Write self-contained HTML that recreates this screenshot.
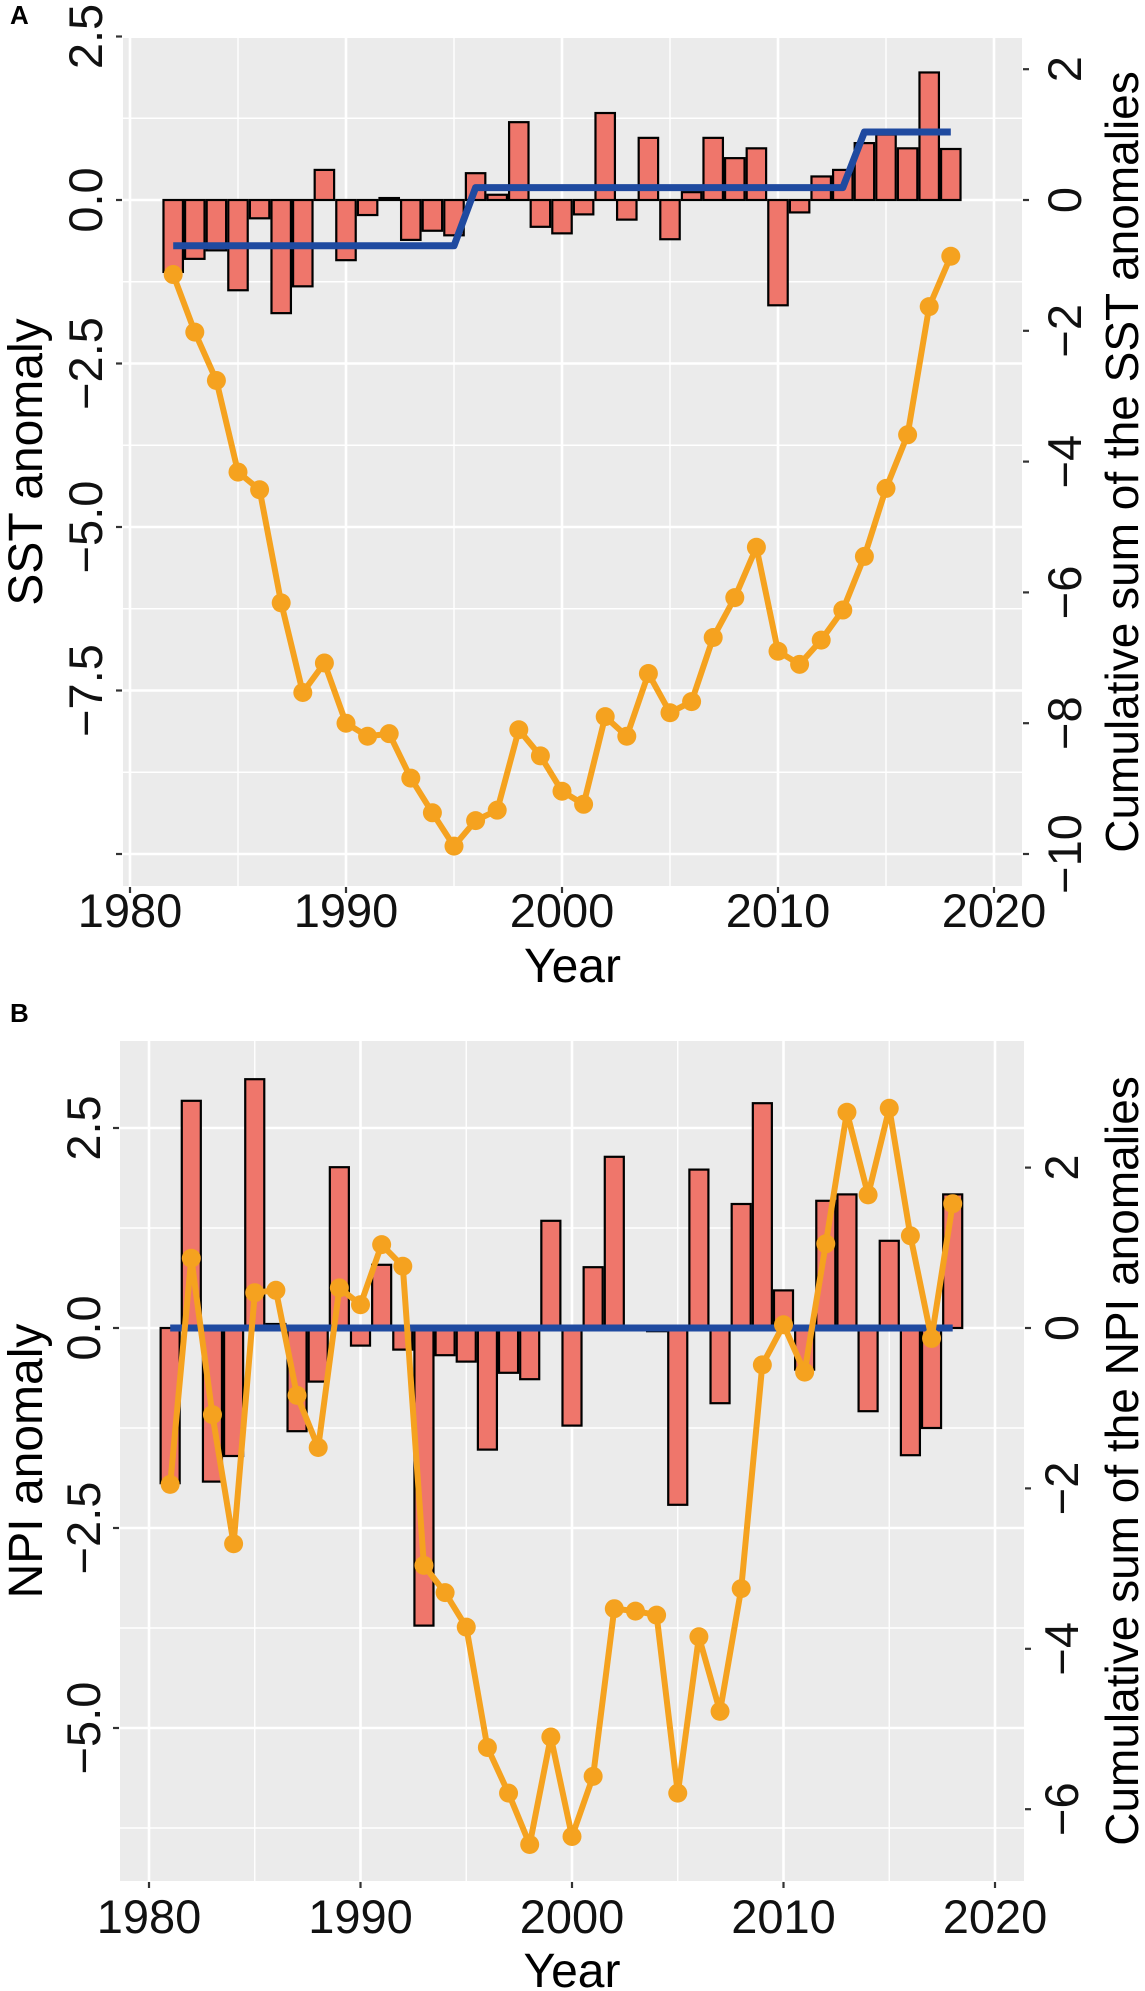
<!DOCTYPE html>
<html><head><meta charset="utf-8"><style>
html,body{margin:0;padding:0;background:#fff;}
svg{display:block;font-family:"Liberation Sans",Arial,sans-serif;}
</style></head><body>
<svg id="chart" width="1145" height="1991" viewBox="0 0 1145 1991" xmlns="http://www.w3.org/2000/svg"></svg>
<script>
// ---- Panel A data (SST) ----
const yearsA = [1982,1983,1984,1985,1986,1987,1988,1989,1990,1991,1992,1993,1994,1995,1996,1997,1998,1999,2000,2001,2002,2003,2004,2005,2006,2007,2008,2009,2010,2011,2012,2013,2014,2015,2016,2017,2018];
const sstAnom = [-1.10,-0.90,-0.77,-1.38,-0.28,-1.73,-1.32,0.46,-0.92,-0.23,0.03,-0.61,-0.47,-0.54,0.41,0.08,1.19,-0.41,-0.51,-0.22,1.33,-0.30,0.95,-0.60,0.12,0.95,0.64,0.79,-1.61,-0.19,0.36,0.46,0.87,1.00,0.79,1.95,0.78];
const sstCusum = [-1.14,-2.02,-2.76,-4.16,-4.43,-6.16,-7.53,-7.08,-8.00,-8.20,-8.16,-8.84,-9.37,-9.88,-9.49,-9.33,-8.10,-8.50,-9.04,-9.24,-7.90,-8.20,-7.24,-7.84,-7.67,-6.69,-6.08,-5.31,-6.90,-7.10,-6.73,-6.27,-5.45,-4.41,-3.59,-1.63,-0.86];
const sstRegime = [-0.70,-0.70,-0.70,-0.70,-0.70,-0.70,-0.70,-0.70,-0.70,-0.70,-0.70,-0.70,-0.70,-0.70,0.19,0.19,0.19,0.19,0.19,0.19,0.19,0.19,0.19,0.19,0.19,0.19,0.19,0.19,0.19,0.19,0.19,0.19,1.04,1.04,1.04,1.04,1.04];
const leftTicksA = [2.5,0,-2.5,-5,-7.5,-10];
const leftTickLabelsA = ["2.5","0.0","\u22122.5","\u22125.0","\u22127.5",""];
const rightTicksA = [2,0,-2,-4,-6,-8,-10];
const rightTickLabelsA = ["2","0","\u22122","\u22124","\u22126","\u22128","\u221210"];

// ---- Panel B data (NPI) ----
const yearsB = [1981,1982,1983,1984,1985,1986,1987,1988,1989,1990,1991,1992,1993,1994,1995,1996,1997,1998,1999,2000,2001,2002,2003,2004,2005,2006,2007,2008,2009,2010,2011,2012,2013,2014,2015,2016,2017,2018];
const npiAnom = [-1.94,2.84,-1.92,-1.60,3.11,0.05,-1.29,-0.67,2.01,-0.22,0.79,-0.27,-3.72,-0.34,-0.42,-1.52,-0.56,-0.64,1.34,-1.22,0.76,2.14,0.02,-0.04,-2.21,1.98,-0.94,1.55,2.81,0.47,-0.52,1.59,1.67,-1.04,1.09,-1.59,-1.25,1.67];
const npiCusum = [-1.95,0.87,-1.08,-2.69,0.44,0.47,-0.84,-1.49,0.50,0.29,1.04,0.77,-2.96,-3.30,-3.73,-5.23,-5.80,-6.44,-5.10,-6.34,-5.59,-3.50,-3.53,-3.58,-5.80,-3.85,-4.78,-3.25,-0.46,0.04,-0.55,1.05,2.69,1.66,2.74,1.15,-0.13,1.55];
const npiRegime = [0,0,0,0,0,0,0,0,0,0,0,0,0,0,0,0,0,0,0,0,0,0,0,0,0,0,0,0,0,0,0,0,0,0,0,0,0,0];
const leftTicksB = [2.5,0,-2.5,-5];
const leftTickLabelsB = ["2.5","0.0","\u22122.5","\u22125.0"];
const rightTicksB = [2,0,-2,-4,-6];
const rightTickLabelsB = ["2","0","\u22122","\u22124","\u22126"];

const xTickYears = [1980,1990,2000,2010,2020];
const xMinorYears = [1985,1995,2005,2015];

const NS = "http://www.w3.org/2000/svg";
const svg = document.getElementById("chart");
function mk(tag, attrs, parent){
  const e = document.createElementNS(NS, tag);
  for (const k in attrs) e.setAttribute(k, attrs[k]);
  (parent||svg).appendChild(e);
  return e;
}

function drawPanel(P){
  const g = mk("g", {});
  
  
  const bg = mk("rect", {x:P.left, y:P.top, width:P.right-P.left, height:P.bottom-P.top, fill:"#EBEBEB"}, g);
  
  
  for (let i=0;i<P.leftTicks.length;i++){
    const v = P.leftTicks[i];
    const yy = P.y(v);
    if (yy>=P.top-1 && yy<=P.bottom+1){
      const l = mk("line",{x1:P.left,x2:P.right,y1:yy,y2:yy,stroke:"#fff","stroke-width":2.6},g);
      
      
    }
    const ym = P.y(v - P.step/2);
    if (ym>=P.top && ym<=P.bottom){
      const l2 = mk("line",{x1:P.left,x2:P.right,y1:ym,y2:ym,stroke:"#fff","stroke-width":1.4},g);
      
      
    }
  }
  const ymTop = P.y(P.leftTicks[0] + P.step/2);
  if (ymTop>=P.top && ymTop<=P.bottom){
    const l3 = mk("line",{x1:P.left,x2:P.right,y1:ymTop,y2:ymTop,stroke:"#fff","stroke-width":1.4},g);
    
    
  }
  for (const yr of xMinorYears){
    const xx = P.x(yr);
    const l = mk("line",{x1:xx,x2:xx,y1:P.top,y2:P.bottom,stroke:"#fff","stroke-width":1.4},g);
    
    
  }
  for (const yr of xTickYears){
    const xx = P.x(yr);
    if (xx>=P.left && xx<=P.right){
      const l = mk("line",{x1:xx,x2:xx,y1:P.top,y2:P.bottom,stroke:"#fff","stroke-width":2.6},g);
      
      
    }
  }
  const bw = P.pxPerYear*0.9;
  for (let i=0;i<P.years.length;i++){
    const v = P.anom[i];
    const y0 = P.y(0), y1 = P.y(v);
    const r = mk("rect",{x:P.x(P.years[i])-bw/2, y:Math.min(y0,y1), width:bw, height:Math.max(Math.abs(y1-y0),0.5), fill:"#EF766B", stroke:"#000", "stroke-width":2.2},g);
    
    
  }
  const rp = P.years.map((yr,i)=>P.x(yr).toFixed(1)+","+P.y(P.regime[i]).toFixed(1)).join(" ");
  const bl = mk("polyline",{points:rp, fill:"none", stroke:"#1F4AA0","stroke-width":7,"stroke-linejoin":"round"},g);
  
  
  const cp = P.years.map((yr,i)=>P.x(yr).toFixed(1)+","+P.yR(P.cusum[i]).toFixed(1)).join(" ");
  const ol = mk("polyline",{points:cp, fill:"none", stroke:"#F5A21F","stroke-width":6,"stroke-linejoin":"round"},g);
  
  
  for (let i=0;i<P.years.length;i++){
    const c = mk("circle",{cx:P.x(P.years[i]), cy:P.yR(P.cusum[i]), r:9.5, fill:"#F5A21F"},g);
    
    
  }
  for (let i=0;i<P.leftTicks.length;i++){
    const yy = P.y(P.leftTicks[i]);
    const t = mk("line",{x1:P.left-7,x2:P.left-1,y1:yy,y2:yy,stroke:"#333","stroke-width":2.2},g);
    
    
    if (P.leftLabels[i]){
      const tx = mk("text",{transform:"translate("+P.leftLabelX+","+yy+") rotate(-90)","text-anchor":"middle","font-size":47,fill:"#111"},g);
      tx.textContent = P.leftLabels[i];
      
      
    }
  }
  for (let i=0;i<P.rightTicks.length;i++){
    const yy = P.yR(P.rightTicks[i]);
    const t = mk("line",{x1:P.right+1,x2:P.right+7,y1:yy,y2:yy,stroke:"#333","stroke-width":2.2},g);
    
    
    const tx = mk("text",{transform:"translate("+P.rightLabelX+","+yy+") rotate(-90)","text-anchor":"middle","font-size":47,fill:"#111"},g);
    tx.textContent = P.rightLabels[i];
    
    
  }
  for (const yr of xTickYears){
    const xx = P.x(yr);
    const t = mk("line",{x1:xx,x2:xx,y1:P.bottom+1,y2:P.bottom+7,stroke:"#333","stroke-width":2.2},g);
    
    
    const tx = mk("text",{x:xx,y:P.xLabelY,"text-anchor":"middle","font-size":47,fill:"#111"},g);
    tx.textContent = String(yr);
    
    
  }
  const xt = mk("text",{x:(P.left+P.right)/2,y:P.xTitleY,"text-anchor":"middle","font-size":48,fill:"#000"},g);
  xt.textContent = "Year";
  
  
  const mid = (P.top+P.bottom)/2;
  const lt = mk("text",{transform:"translate(42,"+mid+") rotate(-90)","text-anchor":"middle","font-size":48,fill:"#000"},g);
  lt.textContent = P.leftTitle;
  
  
  const rt = mk("text",{transform:"translate(1138,"+mid+") rotate(-90)","text-anchor":"middle","font-size":46,fill:"#000"},g);
  rt.textContent = P.rightTitle;
  
  
  const pl = mk("text",{x:10,y:P.panelLabelY,"font-size":26,"font-weight":"bold",fill:"#000"},g);
  pl.textContent = P.panelLabel;
  
  
}

drawPanel({
  name:"panel-a-sst", left:123, right:1022, top:38, bottom:886,
  pxPerYear:21.6, x:yr=>130+21.6*(yr-1980), y:v=>200-65.4*v, yR:v=>200-65.4*v,
  step:2.5, years:yearsA, anom:sstAnom, cusum:sstCusum, regime:sstRegime,
  leftTicks:leftTicksA, leftLabels:leftTickLabelsA, rightTicks:rightTicksA, rightLabels:rightTickLabelsA,
  leftLabelX:102, rightLabelX:1081, xLabelY:927, xTitleY:982,
  leftTitle:"SST anomaly", rightTitle:"Cumulative sum of the SST anomalies",
  panelLabel:"A", panelLabelY:24
});
drawPanel({
  name:"panel-b-npi", left:120, right:1024, top:1041, bottom:1881,
  pxPerYear:21.15, x:yr=>149+21.15*(yr-1980), y:v=>1328-80*v, yR:v=>1328-80.2*v,
  step:2.5, years:yearsB, anom:npiAnom, cusum:npiCusum, regime:npiRegime,
  leftTicks:leftTicksB, leftLabels:leftTickLabelsB, rightTicks:rightTicksB, rightLabels:rightTickLabelsB,
  leftLabelX:100, rightLabelX:1078, xLabelY:1933, xTitleY:1987,
  leftTitle:"NPI anomaly", rightTitle:"Cumulative sum of the NPI anomalies",
  panelLabel:"B", panelLabelY:1022
});
</script>
</body></html>
